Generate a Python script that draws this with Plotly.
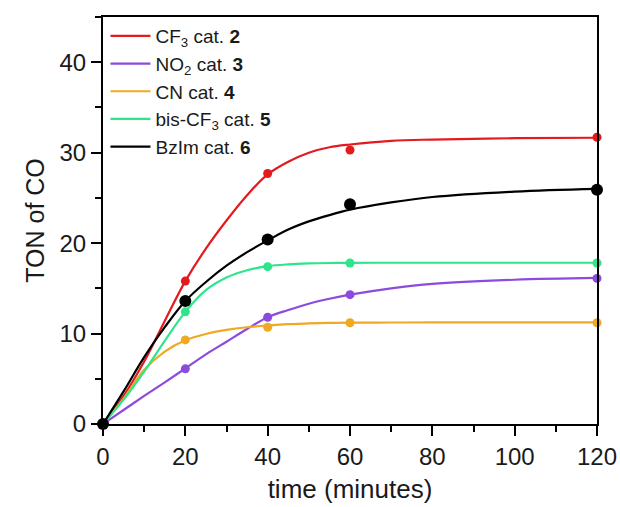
import plotly.graph_objects as go

# measured data points
t_pts = [0, 20, 40, 60, 120]
cf3_pts = [0, 15.8, 27.7, 30.3, 31.7]
no2_pts = [0, 6.1, 11.8, 14.3, 16.1]
cn_pts = [0, 9.3, 10.7, 11.2, 11.2]
bis_pts = [0, 12.4, 17.4, 17.8, 17.8]
bzim_pts = [0, 13.6, 20.4, 24.3, 25.9]

# fitted curves
t_fit = [0, 5, 10, 15, 20, 25, 30, 35, 40, 45, 50, 55, 60, 70, 80, 100, 120]
cf3_fit = [0, 3.1, 6.9, 11.4, 15.8, 19.4, 22.5, 25.3, 27.6, 29.0, 30.0, 30.6, 30.9, 31.3, 31.45, 31.6, 31.65]
no2_fit = [0, 1.55, 3.1, 4.6, 6.15, 7.7, 9.1, 10.5, 11.8, 12.6, 13.3, 13.85, 14.3, 15.0, 15.5, 15.95, 16.15]
cn_fit = [0, 2.8, 6.0, 8.0, 9.25, 9.95, 10.4, 10.7, 10.9, 11.05, 11.12, 11.17, 11.2, 11.22, 11.23, 11.24, 11.24]
bis_fit = [0, 2.7, 5.8, 9.2, 12.4, 14.8, 16.2, 17.0, 17.45, 17.65, 17.75, 17.8, 17.82, 17.83, 17.83, 17.83, 17.83]
bzim_fit = [0, 3.6, 7.4, 10.7, 13.6, 15.7, 17.5, 19.0, 20.3, 21.5, 22.4, 23.1, 23.7, 24.5, 25.1, 25.7, 26.0]

names = ["CF<sub>3</sub> cat. <b>2</b>", "NO<sub>2</sub> cat. <b>3</b>", "CN cat. <b>4</b>",
         "bis-CF<sub>3</sub> cat. <b>5</b>", "BzIm cat. <b>6</b>"]
colors = ["#e31b1f", "#8c4bdc", "#f0a923", "#2fe58c", "#000000"]
pts = [cf3_pts, no2_pts, cn_pts, bis_pts, bzim_pts]
fits = [cf3_fit, no2_fit, cn_fit, bis_fit, bzim_fit]
msizes = [9, 9, 9, 9, 12]

fig = go.Figure()
for name, c, f in zip(names, colors, fits):
    fig.add_trace(go.Scatter(x=t_fit, y=f, mode="lines", name=name,
                             line=dict(color=c, width=2.2, shape="spline", smoothing=1.0),
                             cliponaxis=False))
for c, p, s in zip(colors, pts, msizes):
    fig.add_trace(go.Scatter(x=t_pts, y=p, mode="markers", showlegend=False,
                             marker=dict(color=c, size=s), cliponaxis=False))

font = "Liberation Sans, Arial, sans-serif"
fig.update_layout(
    width=620, height=507,
    margin=dict(l=103, r=23, t=17, b=83),
    plot_bgcolor="white", paper_bgcolor="white",
    font=dict(family=font, color="#1a1a1a", size=24),
    showlegend=True,
    legend=dict(x=0.005, y=1.0, xanchor="left", yanchor="top",
                font=dict(size=19, family=font, color="#1a1a1a"),
                bgcolor="rgba(0,0,0,0)", tracegroupgap=0, itemwidth=40),
)
fig.update_xaxes(range=[0, 120], tickvals=[0, 20, 40, 60, 80, 100, 120],
                 ticks="outside", ticklen=10, tickwidth=2, tickcolor="black",
                 minor=dict(dtick=10, tick0=0, ticks="outside", ticklen=6, tickwidth=2, tickcolor="black"),
                 showline=True, linecolor="black", linewidth=2, mirror=True,
                 showgrid=False, zeroline=False, automargin=False,
                 tickfont=dict(size=24, family=font),
                 title=dict(text="time (minutes)", font=dict(size=26, family=font), standoff=11))
fig.update_yaxes(range=[0, 45], tickvals=[0, 10, 20, 30, 40],
                 ticks="outside", ticklen=10, tickwidth=2, tickcolor="black",
                 minor=dict(dtick=5, tick0=0, ticks="outside", ticklen=6, tickwidth=2, tickcolor="black"),
                 showline=True, linecolor="black", linewidth=2, mirror=True,
                 showgrid=False, zeroline=False, automargin=False,
                 tickfont=dict(size=24, family=font),
                 title=dict(text="TON of CO", font=dict(size=25, family=font), standoff=8))

fig.write_html("out.html")
